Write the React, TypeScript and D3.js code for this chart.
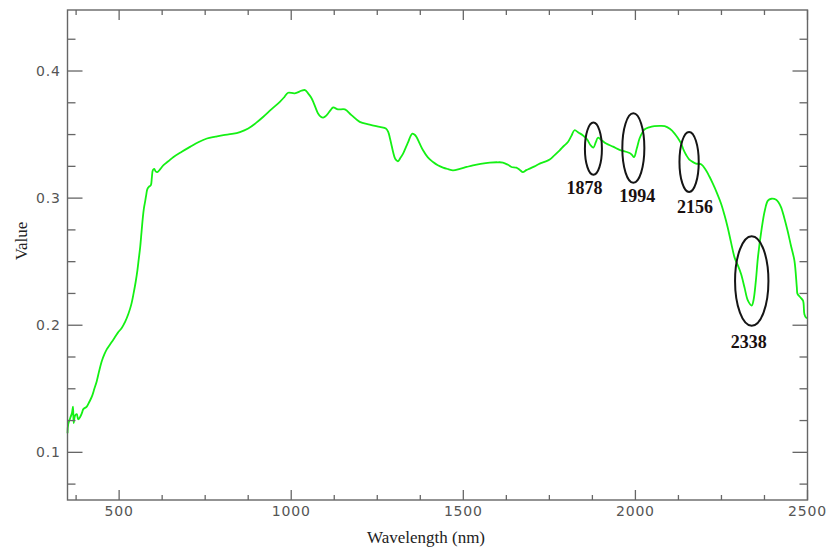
import React from "react";
import * as d3 from "d3";

// Reflectance spectrum (wavelength in nm, reflectance value)
const wavelengths = [
  350, 352, 358, 363, 366, 368, 372, 377, 381, 387, 392, 396, 406, 414, 421, 428, 435, 442, 450, 457,
  464, 474, 484, 496, 508, 518, 527, 535, 542, 548, 553, 557, 561, 565, 569, 572, 576, 579, 582, 587,
  592, 595, 598, 602, 606, 611, 620, 629, 643, 658, 682, 706, 730, 755, 780, 803, 828, 851, 875, 897,
  919, 943, 967, 980, 991, 1010, 1030, 1040, 1049, 1057, 1064, 1071, 1078, 1086, 1093, 1100, 1107, 1115, 1122, 1136,
  1156, 1175, 1199, 1228, 1257, 1275, 1282, 1287, 1292, 1296, 1302, 1310, 1317, 1325, 1333, 1340, 1347, 1352, 1358, 1364,
  1373, 1383, 1397, 1412, 1426, 1441, 1456, 1470, 1490, 1510, 1528, 1550, 1577, 1600, 1615, 1630, 1640, 1654, 1665, 1673,
  1683, 1693, 1707, 1722, 1736, 1751, 1766, 1780, 1792, 1804, 1814, 1823, 1835, 1847, 1860, 1870, 1878, 1885, 1891, 1900,
  1915, 1935, 1954, 1969, 1983, 1990, 1996, 2004, 2012, 2020, 2026, 2040, 2055, 2070, 2085, 2100, 2114, 2124, 2133, 2140,
  2148, 2156, 2165, 2176, 2191, 2205, 2215, 2225, 2237, 2249, 2259, 2268, 2278, 2288, 2297, 2307, 2317, 2327, 2338, 2343,
  2350, 2356, 2366, 2376, 2385, 2395, 2409, 2416, 2423, 2432, 2442, 2452, 2462, 2469, 2471, 2479, 2487, 2491, 2496, 2500,
];

const reflectance = [
  0.115, 0.122, 0.127, 0.131, 0.136, 0.123, 0.129, 0.130, 0.126, 0.128, 0.131, 0.134, 0.136, 0.140, 0.144, 0.150, 0.156, 0.164, 0.172, 0.177,
  0.181, 0.185, 0.189, 0.194, 0.198, 0.203, 0.209, 0.216, 0.225, 0.234, 0.243, 0.252, 0.261, 0.273, 0.285, 0.292, 0.298, 0.303, 0.307, 0.309,
  0.310, 0.316, 0.322, 0.323, 0.321, 0.3205, 0.323, 0.326, 0.329, 0.3324, 0.3365, 0.3403, 0.344, 0.3469, 0.3483, 0.3495, 0.3505, 0.352, 0.3548, 0.359,
  0.364, 0.370, 0.3758, 0.3795, 0.3829, 0.3824, 0.3845, 0.385, 0.3824, 0.3795, 0.3758, 0.371, 0.3666, 0.364, 0.3634, 0.3645, 0.3666, 0.3695, 0.3713, 0.3698,
  0.3698, 0.3653, 0.360, 0.3579, 0.356, 0.3548, 0.352, 0.3469, 0.341, 0.3363, 0.331, 0.329, 0.3315, 0.335, 0.340, 0.3442, 0.349, 0.3508, 0.350, 0.3481,
  0.343, 0.3376, 0.332, 0.3284, 0.3258, 0.324, 0.3228, 0.3219, 0.323, 0.3245, 0.3258, 0.327, 0.328, 0.3282, 0.328, 0.3262, 0.3245, 0.324, 0.322, 0.3205,
  0.322, 0.3232, 0.325, 0.3271, 0.3285, 0.3303, 0.334, 0.3376, 0.341, 0.3442, 0.349, 0.3534, 0.3515, 0.3495, 0.346, 0.3415, 0.3398, 0.344, 0.3475, 0.346,
  0.3429, 0.3405, 0.338, 0.3368, 0.3355, 0.334, 0.3322, 0.339, 0.3469, 0.3515, 0.354, 0.3557, 0.3566, 0.3568, 0.3566, 0.3545, 0.3508, 0.347, 0.3429, 0.338,
  0.3337, 0.3305, 0.3287, 0.3272, 0.3266, 0.3219, 0.317, 0.3114, 0.304, 0.2956, 0.2865, 0.2771, 0.265, 0.2534, 0.2475, 0.2403, 0.2297, 0.2193, 0.2155, 0.2195,
  0.2351, 0.2534, 0.2745, 0.2903, 0.298, 0.2995, 0.2987, 0.2965, 0.2929, 0.285, 0.2745, 0.2625, 0.2508, 0.2298, 0.2246, 0.222, 0.2193, 0.2087, 0.206, 0.2055,
];

// Absorption features marked on the spectrum
const featureWavelengths = [1878, 1994, 2156, 2338];
const featureCenterValues = [0.3389, 0.3394, 0.3285, 0.2348];
const featureHalfWidthNm = [24.7, 32, 28, 48.5];
const featureHalfHeight = [0.0205, 0.0273, 0.0236, 0.0352];

// Axis ticks
const xTickLabels = [500, 1000, 1500, 2000, 2500];
const yTickLabels = [0.1, 0.2, 0.3, 0.4];

const xDomain = [350, 2500];
const yDomain = [0.0625, 0.448];

export default function App() {
  const width = 829;
  const height = 550;
  const left = 67.5;
  const right = 807.5;
  const top = 10;
  const bottom = 500;

  const x = d3.scaleLinear().domain(xDomain).range([left, right]);
  const y = d3.scaleLinear().domain(yDomain).range([bottom, top]);

  const points = wavelengths.map((w, i) => [w, reflectance[i]] as [number, number]);
  const line = d3
    .line<[number, number]>()
    .x((d) => x(d[0]))
    .y((d) => y(d[1]))
    .curve(d3.curveCatmullRom.alpha(0.5));

  const xMinor = d3.range(375, 2500, 125).filter((v) => v % 500 !== 0);
  const yMinor = d3.range(0.075, 0.44, 0.025).filter((v) => Math.abs(v * 10 - Math.round(v * 10)) > 1e-6);

  const axisColor = "#666";
  const tickFont = "'DejaVu Sans', sans-serif";
  const serif = "'Liberation Serif', 'Times New Roman', serif";

  // label placement relative to each ellipse: [dx, gap below ellipse]
  const labelOffsets = [
    [-9, 19],
    [4, 19],
    [6, 21],
    [-3, 22],
  ];

  return (
    <svg
      width={width}
      height={height}
      style={{ position: "absolute", left: 0, top: 0, background: "#fff" }}
    >
      <rect x={0} y={0} width={width} height={height} fill="#fff" />

      {/* spectrum */}
      <path
        d={line(points) || ""}
        fill="none"
        stroke="#14f014"
        strokeWidth={1.8}
        strokeLinejoin="round"
      />

      {/* frame */}
      <rect
        x={left}
        y={top}
        width={right - left}
        height={bottom - top}
        fill="none"
        stroke={axisColor}
        strokeWidth={1.4}
      />

      {/* x ticks, bottom and top */}
      {xTickLabels.map((v) => (
        <g key={"xm" + v}>
          <line x1={x(v)} x2={x(v)} y1={bottom} y2={bottom - 10} stroke={axisColor} strokeWidth={1.3} />
          <line x1={x(v)} x2={x(v)} y1={top} y2={top + 10} stroke={axisColor} strokeWidth={1.3} />
          <text
            x={x(v)}
            y={516}
            textAnchor="middle"
            fontFamily={tickFont}
            fontSize={14}
            letterSpacing={0.8}
            fill="#555"
          >
            {v}
          </text>
        </g>
      ))}
      {xMinor.map((v) => (
        <g key={"xn" + v}>
          <line x1={x(v)} x2={x(v)} y1={bottom} y2={bottom - 5} stroke={axisColor} strokeWidth={1.3} />
          <line x1={x(v)} x2={x(v)} y1={top} y2={top + 5} stroke={axisColor} strokeWidth={1.3} />
        </g>
      ))}

      {/* y ticks, left and right */}
      {yTickLabels.map((v) => (
        <g key={"ym" + v}>
          <line x1={left} x2={left + 15} y1={y(v)} y2={y(v)} stroke={axisColor} strokeWidth={1.3} />
          <line x1={right} x2={right - 15} y1={y(v)} y2={y(v)} stroke={axisColor} strokeWidth={1.3} />
          <text
            x={36}
            y={y(v) + 5}
            textAnchor="start"
            fontFamily={tickFont}
            fontSize={14}
            letterSpacing={0.8}
            fill="#555"
          >
            {v.toFixed(1)}
          </text>
        </g>
      ))}
      {yMinor.map((v) => (
        <g key={"yn" + v.toFixed(3)}>
          <line x1={left} x2={left + 8} y1={y(v)} y2={y(v)} stroke={axisColor} strokeWidth={1.3} />
          <line x1={right} x2={right - 8} y1={y(v)} y2={y(v)} stroke={axisColor} strokeWidth={1.3} />
        </g>
      ))}

      {/* axis titles */}
      <text x={426} y={543} textAnchor="middle" fontFamily={serif} fontSize={17} fill="#222">
        Wavelength (nm)
      </text>
      <text
        transform={`translate(26.5, 241) rotate(-90)`}
        textAnchor="middle"
        fontFamily={serif}
        fontSize={17}
        fill="#222"
      >
        Value
      </text>

      {/* marked absorption features */}
      {featureWavelengths.map((w, i) => {
        const cx = x(w);
        const cy = y(featureCenterValues[i]);
        const rx = x(w + featureHalfWidthNm[i]) - cx;
        const ry = cy - y(featureCenterValues[i] + featureHalfHeight[i]);
        const [dx, gap] = labelOffsets[i];
        return (
          <g key={"f" + w}>
            <ellipse cx={cx} cy={cy} rx={rx} ry={ry} fill="none" stroke="#151515" strokeWidth={2} />
            <text
              x={cx + dx}
              y={cy + ry + gap}
              textAnchor="middle"
              fontFamily={serif}
              fontWeight="bold"
              fontSize={18}
              fill="#1a1010"
            >
              {w}
            </text>
          </g>
        );
      })}
    </svg>
  );
}
